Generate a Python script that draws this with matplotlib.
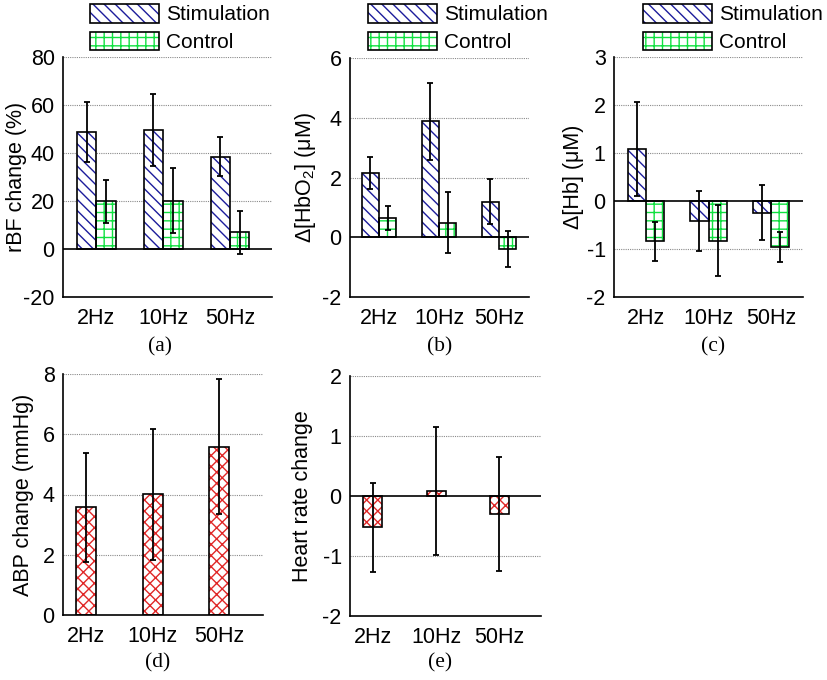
import matplotlib
matplotlib.use('Agg')
import matplotlib.pyplot as plt
import numpy as np
from matplotlib.legend_handler import HandlerTuple

plt.rcParams['font.family'] = ['Liberation Sans', 'DejaVu Sans']
plt.rcParams['axes.unicode_minus'] = False
plt.rcParams['mathtext.default'] = 'regular'
plt.rcParams['hatch.linewidth'] = 1.0

# data
freqs = ['2Hz', '10Hz', '50Hz']

rbf_stim = [48.7, 49.6, 38.5]
rbf_stim_err = [12.5, 15.0, 8.2]
rbf_ctrl = [19.8, 20.2, 6.9]
rbf_ctrl_err = [8.8, 13.4, 9.1]

hbo2_stim = [2.15, 3.88, 1.19]
hbo2_stim_err = [0.54, 1.29, 0.75]
hbo2_ctrl = [0.64, 0.49, -0.38]
hbo2_ctrl_err = [0.39, 1.03, 0.60]

hb_stim = [1.08, -0.42, -0.24]
hb_stim_err = [0.98, 0.62, 0.57]
hb_ctrl = [-0.84, -0.83, -0.96]
hb_ctrl_err = [0.40, 0.74, 0.32]

abp = [3.57, 4.01, 5.59]
abp_err = [1.81, 2.18, 2.24]

hr = [-0.52, 0.08, -0.30]
hr_err = [0.74, 1.07, 0.95]

BLUE = '#1c1c9c'
GREEN = '#10e040'
RED = '#e02828'
FS = 15.5
W, H = 827, 680


def px_axes(fig, l, t, r, b):
    return fig.add_axes([l / W, 1 - b / H, (r - l) / W, (b - t) / H])


def hbar(ax, x, y, err, width, color, hatch):
    h = ax.bar(x, y, width, color='white', edgecolor=color, hatch=hatch, linewidth=0, zorder=2)
    o = ax.bar(x, y, width, fill=False, edgecolor='k', linewidth=1.2, zorder=3)
    ax.errorbar(x, y, yerr=err, fmt='none', ecolor='k', elinewidth=1.3, capsize=2, capthick=1.3, zorder=4)
    return (h, o)


def style(ax, ylim, yticks, xlim, ylabel, lx, zero=True):
    ax.set_ylim(*ylim)
    ax.set_xlim(*xlim)
    ax.set_yticks(yticks)
    ax.set_yticklabels([str(t) for t in yticks])
    ax.set_xticks([1, 2, 3])
    ax.set_xticklabels(freqs)
    ax.tick_params(length=0, labelsize=FS)
    ax.tick_params(axis='x', pad=8)
    ax.tick_params(axis='y', pad=6)
    for t in yticks:
        if t != 0 and t != ylim[0]:
            ax.axhline(t, color='#8a8a8a', lw=0.8, ls=(0, (1, 1)), zorder=1)
    if zero:
        ax.axhline(0, color='k', lw=1.2, zorder=5)
    ax.spines['top'].set_visible(False)
    ax.spines['right'].set_visible(False)
    for s in ['left', 'bottom']:
        ax.spines[s].set_linewidth(1.2)
    ax.set_ylabel(ylabel, fontsize=FS)
    ax.yaxis.set_label_coords(lx, 0.5)


fig = plt.figure(figsize=(W / 100, H / 100), dpi=100)

x = np.array([1, 2, 3])
bw = 0.29

top_panels = [
    ((63, 57, 272, 297), rbf_stim, rbf_stim_err, rbf_ctrl, rbf_ctrl_err, (-20, 80), [-20, 0, 20, 40, 60, 80],
     (0.5, 3.63), 'rBF change (%)', 27, 90, '(a)', 160),
    ((350, 58, 529, 297), hbo2_stim, hbo2_stim_err, hbo2_ctrl, hbo2_ctrl_err, (-2, 6), [-2, 0, 2, 4, 6],
     (0.515, 3.5), 'Δ[HbO$_2$] (μM)', 318, 368, '(b)', 440),
    ((614, 57, 803, 297), hb_stim, hb_stim_err, hb_ctrl, hb_ctrl_err, (-2, 3), [-2, -1, 0, 1, 2, 3],
     (0.49, 3.51), 'Δ[Hb] (μM)', 584, 643, '(c)', 713),
]

for (box, s, se, c, ce, ylim, yt, xlim, yl, lxp, legx, cap, capx) in top_panels:
    ax = px_axes(fig, *box)
    hs = hbar(ax, x - bw / 2, s, se, bw, BLUE, '\\\\\\')
    hc = hbar(ax, x + bw / 2, c, ce, bw, GREEN, '++')
    lx = (lxp - box[0]) / (box[2] - box[0])
    style(ax, ylim, yt, xlim, yl, lx)
    ax.legend([hs, hc], ['Stimulation', 'Control'], handler_map={tuple: HandlerTuple(ndivide=1)},
              loc='upper left', bbox_to_anchor=(legx / W, 1 - 4 / H), bbox_transform=fig.transFigure,
              frameon=False, fontsize=15, handlelength=3.3, handleheight=1.0, handletextpad=0.35,
              labelspacing=0.35, borderpad=0, borderaxespad=0)
    fig.text(capx / W, 1 - 347 / H, cap, family='Liberation Serif', fontsize=15.5, ha='center', va='center')

bottom_panels = [
    ((63, 374, 263, 615), abp, abp_err, (0, 8), [0, 2, 4, 6, 8], (0.65, 3.66), 'ABP change (mmHg)', 34, False, '(d)', 158),
    ((350, 376, 541, 616), hr, hr_err, (-2, 2), [-2, -1, 0, 1, 2], (0.64, 3.66), 'Heart rate change', 313, True, '(e)', 440),
]

for (box, v, ve, ylim, yt, xlim, yl, lxp, zero, cap, capx) in bottom_panels:
    ax = px_axes(fig, *box)
    hbar(ax, x, v, ve, 0.3, RED, 'xxx')
    lx = (lxp - box[0]) / (box[2] - box[0])
    style(ax, ylim, yt, xlim, yl, lx, zero=zero)
    fig.text(capx / W, 1 - 663 / H, cap, family='Liberation Serif', fontsize=15.5, ha='center', va='center')

fig.savefig('out.png', dpi=100)
